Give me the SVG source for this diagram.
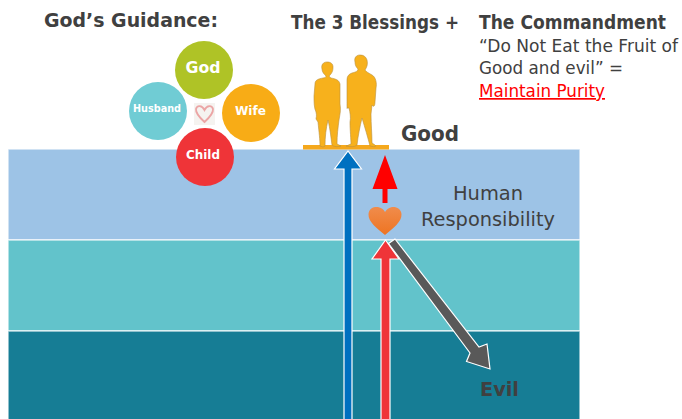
<svg xmlns="http://www.w3.org/2000/svg" width="682" height="419" viewBox="0 0 682 419">
<style>
text{font-family:"DejaVu Sans","Noto Sans",sans-serif}
.h{font-weight:700;fill:#404040;font-size:19px}
.b{font-size:17px;fill:#404040}
.c{font-weight:700;fill:#fff;text-anchor:middle}
.band{stroke:#fff;stroke-opacity:.7;stroke-width:1.5}
.fig{fill:#f7b11c;stroke:#b9913f;stroke-width:.6}
</style>
<defs><linearGradient id="hg" x1="0" y1="0" x2="0" y2="1"><stop offset="0" stop-color="#f08c4c"/><stop offset="1" stop-color="#ee7422"/></linearGradient></defs>
<g id="layers">
<rect class="band" x="8" y="149" width="572" height="91" fill="#9dc3e6"/>
<rect class="band" x="8" y="240" width="572" height="91" fill="#62c3cb"/>
<rect class="band" x="8" y="331" width="572" height="89" fill="#167d95"/>
</g>
<g id="title-guidance"><text class="h" x="44" y="27" textLength="174" lengthAdjust="spacingAndGlyphs">God’s Guidance:</text></g>
<g id="title-blessings"><text class="h" x="291" y="29" textLength="168" lengthAdjust="spacingAndGlyphs">The 3 Blessings +</text></g>
<g id="commandment">
<text class="h" x="479" y="29" textLength="187" lengthAdjust="spacingAndGlyphs">The Commandment</text>
<text class="b" x="479" y="52" textLength="199" lengthAdjust="spacingAndGlyphs">“Do Not Eat the Fruit of</text>
<text class="b" x="479" y="74" textLength="144" lengthAdjust="spacingAndGlyphs">Good and evil” =</text>
<text class="b" x="479" y="97" textLength="126" lengthAdjust="spacingAndGlyphs" style="fill:#f00;text-decoration:underline">Maintain Purity</text>
</g>
<g id="node-heart-small">
<rect x="194" y="103" width="21" height="22" fill="#f5f3f0"/>
<path d="M204.500 122C199 117 195.500 113 196 109C197 105 202 105 204.500 110C207 105 212 105 213 109C213.500 113 210 117 204.500 122Z" fill="none" stroke="#eba5a5" stroke-width="1.800"/>
</g>
<g id="node-god"><circle cx="204" cy="70" r="29" fill="#afc326"/><text class="c" x="203" y="73" font-size="15" textLength="35" lengthAdjust="spacingAndGlyphs">God</text></g>
<g id="node-husband"><circle cx="158" cy="111" r="29" fill="#70ccd4"/><text class="c" x="157" y="112" font-size="10.500" textLength="48" lengthAdjust="spacingAndGlyphs">Husband</text></g>
<g id="node-wife"><circle cx="251" cy="113" r="29" fill="#f8ac16"/><text class="c" x="250.500" y="115" font-size="13" textLength="31" lengthAdjust="spacingAndGlyphs">Wife</text></g>
<g id="node-child"><circle cx="205" cy="157" r="29" fill="#ef3438"/><text class="c" x="203" y="159" font-size="13" textLength="34" lengthAdjust="spacingAndGlyphs">Child</text></g>
<g id="node-couple">
<rect x="303" y="145" width="86" height="4.500" fill="#f5a81c"/>
<path class="fig" d="M327 62C323 62 321 65 322 69C322 72 324 74 326 76C326 77 325 78 323 78C318 79 315 80 315 84L314 96C314 102 314 108 316 112C317 116 316 118 316 119L318 122C319 132 320 140 320 146L323 147L325 146C325 137 326 128 328 120C330 128 331 138 332 145C334 147 338 147 341 146L337 144C337 135 338 128 339 120C340 114 341 110 340 104L340 84C339 80 336 79 331 78C329 77 329 76 330 75C333 72 333 69 333 67C333 64 331 62 327 62Z"/>
<path class="fig" d="M360 55C356 55 354 58 355 62C355 65 356 67 358 69C358 71 356 72 352 73C349 74 347 76 347 80L347 97C347 104 347 110 347 108L349 108C350 112 351 118 350 122C350 130 351 140 351 144C348 145 347 146 346 146C350 147 355 147 357 145C358 136 360 126 362 118C365 128 368 138 370 146C374 147 377 147 375 145L372 143C372 134 371 124 371 114L372 105C374 108 375 105 375 102L376 88C377 84 376 77 372 75C369 73 366 72 365 70C367 67 368 64 367 60C366 57 364 55 360 55Z"/>
</g>
<g id="label-good"><text class="h" x="401" y="141" font-size="21" textLength="58" lengthAdjust="spacingAndGlyphs" style="font-size:21px">Good</text></g>
<g id="label-responsibility">
<text x="488" y="200" text-anchor="middle" font-size="20" fill="#404040" textLength="70" lengthAdjust="spacingAndGlyphs">Human</text>
<text x="488" y="226" text-anchor="middle" font-size="20" fill="#404040" textLength="134" lengthAdjust="spacingAndGlyphs">Responsibility</text>
</g>
<g id="label-evil"><text class="h" x="480" y="396" textLength="39" lengthAdjust="spacingAndGlyphs" style="font-size:20px">Evil</text></g>
<g id="connectors">
<path d="M344 420V169H334.500L348 151L361.500 169H352V420Z" fill="#0070c0" stroke="#fff" stroke-width="1.200"/>
<path d="M381 420V259H372L385.500 240L399 259H390V420Z" fill="#ef3438" stroke="#fff" stroke-width="1.200"/>
<path d="M382.500 203V189H372.500L385 155L397.500 189H387.500V203Z" fill="#f00"/>
<path d="M395 239L388.500 243.500L470 353L466.500 361.500L490 369L487 344L479 347Z" fill="#595959" stroke="#fff" stroke-width="1.200"/>
</g>
<g id="node-heart"><path d="M385 235C377 228 368 222 368.500 214C369 208 374 206.500 378 207C381 207.500 384 209.500 385 212C386.500 209.500 389 207.500 392 207C396.500 206.500 401 208.500 401.500 214C402 222 393 228 385 235Z" fill="url(#hg)"/></g>
</svg>
